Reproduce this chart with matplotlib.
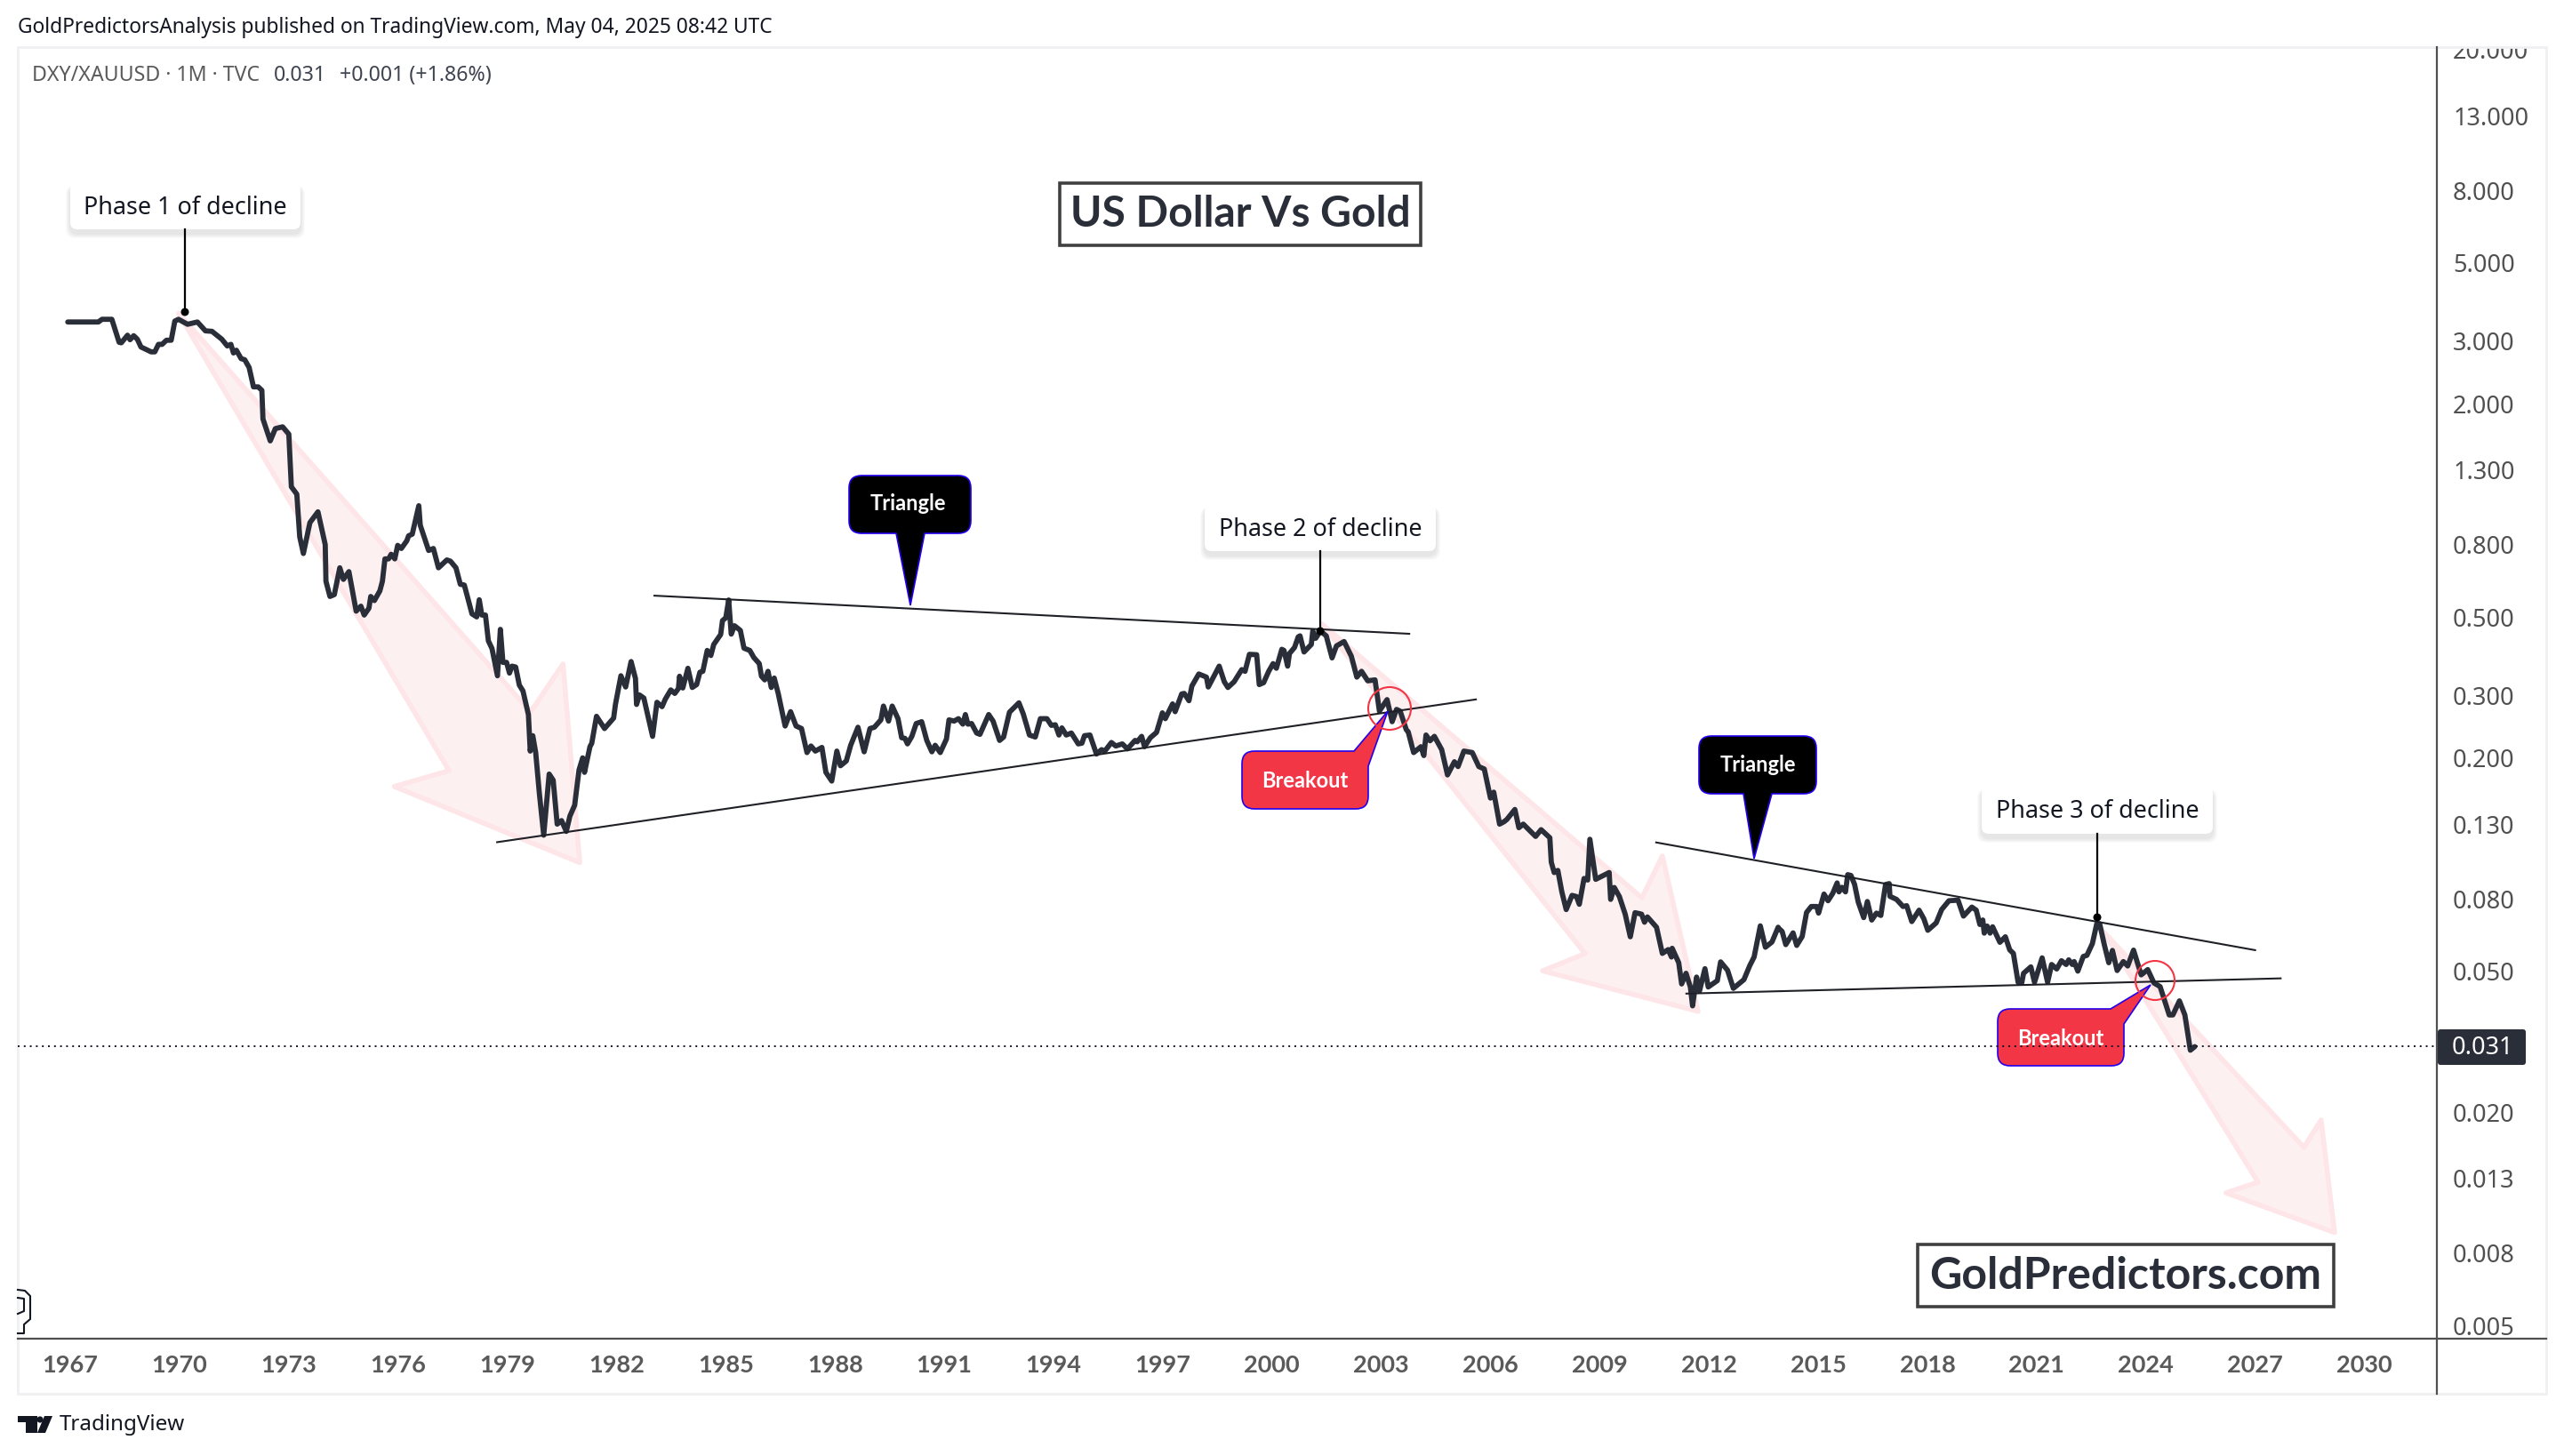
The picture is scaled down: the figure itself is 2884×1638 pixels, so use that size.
from matplotlib import pyplot as plt
from matplotlib.patches import FancyBboxPatch, PathPatch, Polygon, Circle, Rectangle
from matplotlib.path import Path
from matplotlib.transforms import Bbox
import numpy as np

plt.rcParams["font.family"] = ["Noto Sans", "DejaVu Sans"]
BOLD_FONT = ["Lato", "DejaVu Sans"]

# monthly close, one block per stretch of the chart
years_a = [1966.93,1967.77,1967.87,1968.14,1968.34,1968.40,1968.57,1968.64,1968.74,1968.84,1968.94,1969.22,1969.32,1969.42,1969.52,1969.64,1969.77,1969.87,1969.97,1970.22,1970.49,1970.71,1970.89,1971.16,1971.31,1971.41,1971.48,1971.56,1971.69,1971.79,1971.91,1972.03,1972.16,1972.26,1972.29,1972.49,1972.63,1972.83,1973.0,1973.07,1973.22,1973.30,1973.40,1973.58,1973.80,1974.0,1974.02,1974.13,1974.25,1974.40,1974.50,1974.65,1974.85,1974.98,1975.07,1975.20,1975.25,1975.35,1975.50,1975.57,1975.64,1975.74,1975.81,1975.91,1975.99,1976.09,1976.24,1976.29,1976.39,1976.57,1976.61,1976.84,1976.97,1977.11,1977.34,1977.44,1977.59,1977.71,1977.82,1978.03,1978.16,1978.23,1978.30,1978.40,1978.48,1978.58,1978.73,1978.81,1978.88,1978.98,1979.06,1979.13,1979.23,1979.33,1979.43,1979.58,1979.63,1979.70,1979.78,1979.88,1980.0,1980.15,1980.26,1980.37,1980.49,1980.62,1980.72,1980.85,1980.97,1981.07,1981.12,1981.27,1981.32,1981.45,1981.67,1981.92,1981.97,1982.12]
closes_a = [3.40,3.40,3.46,3.46,2.98,2.97,3.12,3.03,3.11,3.04,2.89,2.80,2.80,2.94,2.94,3.02,3.02,3.42,3.46,3.35,3.40,3.21,3.20,3.04,2.91,2.94,2.78,2.83,2.68,2.66,2.53,2.23,2.23,2.18,1.81,1.57,1.70,1.72,1.64,1.165,1.11,.841,.755,.923,.99,.80,.63,.571,.578,.688,.638,.671,.519,.536,.506,.529,.571,.556,.592,.63,.729,.729,.751,.729,.796,.78,.82,.847,.856,1.03,.907,.77,.78,.688,.724,.718,.688,.618,.615,.51,.50,.559,.506,.506,.428,.407,.341,.461,.372,.372,.347,.363,.361,.321,.309,.265,.209,.231,.207,.159,.121,.18,.173,.13,.133,.124,.137,.147,.185,.20,.182,.215,.22,.262,.242,.259,.283,.341]

years_b = [1982.25,1982.40,1982.52,1982.55,1982.63,1982.75,1982.99,1983.11,1983.25,1983.34,1983.49,1983.60,1983.70,1983.73,1983.82,1983.96,1984.08,1984.20,1984.29,1984.37,1984.49,1984.59,1984.67,1984.86,1984.91,1985.0,1985.08,1985.15,1985.24,1985.40,1985.50,1985.66,1985.77,1985.92,1985.98,1986.07,1986.16,1986.25,1986.33,1986.44,1986.63,1986.78,1986.93,1987.08,1987.23,1987.34,1987.46,1987.64,1987.75,1987.91,1988.05,1988.15,1988.31,1988.43,1988.63,1988.80,1988.96,1989.08,1989.26,1989.33,1989.47,1989.57,1989.73,1989.83,1989.92,1989.99,1990.11,1990.23,1990.38,1990.52,1990.66,1990.75,1990.89,1991.06,1991.13,1991.27,1991.39,1991.51,1991.58,1991.65,1991.75,1991.89,1991.98,1992.22,1992.34,1992.52,1992.63,1992.79,1992.93,1993.05,1993.17,1993.34,1993.50,1993.64,1993.82,1993.94,1994.05,1994.15,1994.23,1994.35,1994.49,1994.68,1994.78,1994.85,1995.0,1995.18,1995.32,1995.41,1995.59,1995.71,1995.89,1996.03,1996.24,1996.30,1996.42,1996.50,1996.66,1996.83,1996.99,1997.07,1997.27,1997.34,1997.52,1997.59,1997.72,1997.80,1997.99,1998.20,1998.25,1998.55,1998.69,1998.79,1998.96,1999.17,1999.26,1999.38,1999.58,1999.65,1999.77,1999.91,2000.03,2000.12,2000.27,2000.33,2000.43,2000.48,2000.62,2000.72]
closes_b = [.317,.374,.335,.283,.301,.295,.230,.287,.279,.293,.311,.304,.314,.340,.315,.358,.316,.322,.349,.351,.402,.389,.418,.446,.488,.497,.558,.447,.472,.458,.408,.402,.384,.369,.340,.332,.351,.316,.336,.304,.246,.270,.246,.242,.207,.216,.209,.214,.182,.172,.209,.190,.196,.217,.244,.208,.242,.244,.256,.280,.254,.280,.258,.228,.227,.219,.230,.250,.253,.224,.208,.217,.207,.226,.256,.254,.258,.249,.265,.249,.250,.235,.233,.265,.254,.224,.229,.269,.278,.286,.266,.232,.229,.258,.258,.247,.248,.232,.243,.232,.235,.219,.220,.231,.232,.205,.211,.209,.221,.216,.219,.212,.224,.222,.230,.215,.228,.236,.268,.258,.284,.270,.303,.304,.290,.319,.345,.338,.317,.363,.328,.316,.328,.355,.351,.392,.391,.322,.326,.351,.369,.358,.405,.402,.363,.394,.41,.439]

years_c = [2000.77,2000.88,2001.08,2001.12,2001.20,2001.33,2001.49,2001.65,2001.77,2001.98,2002.18,2002.33,2002.46,2002.63,2002.83,2002.95,2003.16,2003.30,2003.42,2003.52,2003.69,2003.74,2003.89,2004.09,2004.17,2004.23,2004.34,2004.46,2004.66,2004.82,2005.01,2005.11,2005.27,2005.50,2005.68,2005.83,2006.0,2006.09,2006.25,2006.37,2006.45,2006.67,2006.78,2006.90,2007.10,2007.24,2007.39,2007.63]
closes_c = [.442,.398,.418,.456,.435,.456,.442,.383,.414,.426,.387,.338,.351,.330,.332,.271,.292,.253,.274,.271,.240,.237,.207,.215,.203,.232,.2235,.230,.211,.179,.195,.189,.209,.207,.189,.186,.154,.160,.130,.132,.134,.143,.127,.130,.124,.120,.1254,.119]

years_d = [2007.67,2007.75,2007.85,2007.96,2008.08,2008.24,2008.36,2008.44,2008.57,2008.67,2008.73,2008.89,2009.26,2009.30,2009.40,2009.54,2009.70,2009.84,2009.97,2010.15,2010.23,2010.31,2010.56,2010.72,2010.88,2010.97,2010.99,2011.17,2011.25,2011.37,2011.49,2011.55,2011.66,2011.74,2011.89,2011.98,2012.23,2012.32,2012.51,2012.67,2012.96,2013.12,2013.24,2013.41,2013.55,2013.73,2013.90]
closes_d = [.1015,.0949,.0962,.0837,.0746,.0818,.0812,.0772,.0913,.0904,.1178,.0908,.0949,.0797,.0861,.0812,.0724,.0625,.0731,.0724,.0687,.0711,.0665,.0561,.0575,.0548,.058,.0528,.046,.0493,.0451,.0399,.0481,.0439,.0508,.0451,.047,.0531,.0503,.0447,.0473,.0518,.0548,.0671,.0584,.0604,.0665]

years_e = [2013.91,2014.01,2014.11,2014.31,2014.41,2014.56,2014.68,2014.81,2014.96,2015.01,2015.16,2015.27,2015.40,2015.52,2015.57,2015.65,2015.75,2015.81,2015.90,2016.0,2016.10,2016.25,2016.35,2016.47,2016.60,2016.72,2016.85,2016.95,2016.97,2017.15,2017.33,2017.43,2017.57,2017.77,2017.90,2018.01,2018.24,2018.39,2018.59,2018.84,2018.99,2019.22,2019.34,2019.44,2019.52,2019.56,2019.64,2019.72,2019.79,2019.99,2020.14,2020.26,2020.36,2020.49,2020.59,2020.64,2020.84,2020.94,2021.15,2021.30,2021.41,2021.55,2021.68,2021.81,2021.88,2021.98,2022.03,2022.13,2022.28,2022.38,2022.53,2022.65,2022.73,2022.85,2022.98,2023.08,2023.21,2023.38,2023.50,2023.66,2023.87,2024.05,2024.22,2024.39,2024.64,2024.74,2024.92,2025.07,2025.22,2025.34]
closes_e = [.0661,.0647,.0594,.0641,.0591,.0626,.0732,.0761,.0761,.0729,.0825,.079,.0829,.0887,.0837,.0862,.0837,.0936,.0931,.0878,.0783,.0708,.0786,.0697,.0729,.0718,.0878,.0883,.0813,.0797,.0761,.0765,.069,.0743,.0703,.0652,.0684,.0746,.079,.0793,.0715,.0758,.0743,.0677,.0697,.064,.067,.064,.0667,.0603,.0625,.0574,.0561,.0465,.0463,.0493,.0514,.0465,.0545,.0465,.0522,.0507,.0535,.0522,.0538,.0522,.0532,.05,.055,.0554,.0598,.068,.068,.0598,.0528,.0572,.0502,.0532,.0517,.0573,.0488,.0505,.0463,.0452,.0376,.0376,.0412,.0376,.0299,.0306]

x_tick_years = list(range(1967, 2031, 3))
y_tick_values = [20, 13, 8, 5, 3, 2, 1.3, .8, .5, .3, .2, .13, .08, .05, .02, .013, .008, .005]

# drawn trend lines and decline arrows, (year, price)
trend_lines = [
    [(1983.04, .574), (2003.77, .448)],
    [(1978.72, .1156), (2005.6, .2924)],
    [(2010.55, .1154), (2027.0, .0573)],
    [(2011.38, .0432), (2027.7, .0477)],
]
decline_arrows = [
    [(1969.97, 3.6), (1979.64, .2695), (1980.53, .368), (1980.99, .1012), (1975.90, .166), (1977.40, .184)],
    [(2001.37, .4775), (2010.16, .0805), (2010.72, .1057), (2011.70, .0385), (2007.43, .0501), (2008.60, .056)],
    [(2022.83, .0647), (2028.34, .0159), (2028.81, .019), (2029.18, .00914), (2026.2, .01183), (2027.08, .01268)],
]

DARK = "#2a2e39"
AXIS = "#505050"
RED = "#f23645"
BLUE = "#2200ee"

years = np.concatenate([years_a, years_b, years_c, years_d, years_e])
closes = np.concatenate([closes_a, closes_b, closes_c, closes_d, closes_e])

W, H = 2884, 1638
fig = plt.figure(figsize=(W / 100, H / 100), dpi=100, facecolor="white")
ax = fig.add_axes([20 / W, 1 - 1506 / H, (2741 - 20) / W, (1506 - 53) / H])
ax.set_yscale("log")
ax.set_xlim(1965.557, 2031.99)
ax.set_ylim(.004585, 20.3)

for arrow in decline_arrows:
    ax.add_patch(Polygon(arrow, closed=True, facecolor="#fdf0f1", edgecolor="#fde5e8",
                         lw=4, joinstyle="round", zorder=1))
ax.plot(years, closes, color=DARK, lw=4.2, solid_joinstyle="round", solid_capstyle="round", zorder=3)
for line in trend_lines:
    xs, ys = zip(*line)
    ax.plot(xs, ys, color="#1e2026", lw=1.5, zorder=4)

ax.set_xticks(x_tick_years)
ax.set_xticklabels([str(y) for y in x_tick_years], fontsize=19.5, fontweight="bold", color="#5a5a5a",
                   family=BOLD_FONT)
ax.yaxis.tick_right()
ax.set_yticks(y_tick_values)
ax.set_yticklabels([f"{v:.3f}" for v in y_tick_values], fontsize=19.5, color="#505050")
ax.yaxis.set_minor_locator(plt.NullLocator())
ax.tick_params(which="both", length=0)
ax.tick_params(axis="x", pad=13)
ax.tick_params(axis="y", pad=13)
for lab in ax.get_yticklabels():
    lab.set_clip_on(True)
    lab.set_clip_box(Bbox([[0, 0], [W, H - 53]]))
for name in ["top", "left", "right", "bottom"]:
    ax.spines[name].set_visible(False)

# everything that is not data sits on a full figure overlay in pixels
over = fig.add_axes([0, 0, 1, 1], facecolor="none")
over.set_xlim(0, W)
over.set_ylim(H, 0)
over.axis("off")

over.add_patch(Rectangle((20, 53), 2844, 1515, fill=False, edgecolor="#f0f0f2", lw=2, zorder=0))
over.plot([20, 2864], [1506, 1506], color=AXIS, lw=1.6, zorder=1)
over.plot([2741, 2741], [53, 1568], color=AXIS, lw=1.6, zorder=1)


def rounded_path(points):
    # points are (x, y, radius), corners get a quadratic curve
    verts, codes = [], []
    n = len(points)
    for i, (x, y, r) in enumerate(points):
        p = np.array([x, y], float)
        if r == 0:
            verts.append(p)
            codes.append(Path.LINETO)
            continue
        a = np.array(points[i - 1][:2], float) - p
        b = np.array(points[(i + 1) % n][:2], float) - p
        verts += [p + a / np.hypot(*a) * r, p, p + b / np.hypot(*b) * r]
        codes += [Path.LINETO, Path.CURVE3, Path.CURVE3]
    codes[0] = Path.MOVETO
    verts.append(verts[0])
    codes.append(Path.CLOSEPOLY)
    return Path(verts, codes)


def note(x0, y0, x1, y1, text, tx, tip):
    # white label with a soft shadow and a stem going down to a dot
    for k in range(1, 6):
        over.add_patch(FancyBboxPatch((x0 - k, y0 + 3), x1 - x0 + 2 * k, y1 - y0 + k + 2,
                                      boxstyle="round,pad=0,rounding_size=10",
                                      facecolor="black", edgecolor="none", alpha=.018, zorder=5))
    over.add_patch(FancyBboxPatch((x0, y0), x1 - x0, y1 - y0, boxstyle="round,pad=0,rounding_size=8",
                                  facecolor="white", edgecolor="none", zorder=6))
    over.text((x0 + x1) / 2, (y0 + y1) / 2 + 2, text, ha="center", va="center", fontsize=19.4,
              color="#131722", zorder=7)
    over.plot([tx, tx], [y1, tip], color="black", lw=1.6, zorder=6)
    over.add_patch(Circle((tx, tip), 4.5, facecolor="black", edgecolor="none", zorder=6))


note(79, 206, 338, 258, "Phase 1 of decline", 208, 351)
note(1355, 568, 1615, 620, "Phase 2 of decline", 1485, 710)
note(2229, 885, 2489, 938, "Phase 3 of decline", 2359, 1032)


def balloon(points, text, tx, ty, color):
    over.add_patch(PathPatch(rounded_path(points), facecolor=color, edgecolor=BLUE, lw=1.2, zorder=6))
    over.text(tx, ty, text, ha="center", va="center", fontsize=17, fontweight="bold", color="white",
              family=BOLD_FONT, zorder=7)


balloon([(955, 535, 14), (1092, 535, 14), (1092, 600, 14), (1040, 600, 0), (1024, 681, 0), (1008, 600, 0), (955, 600, 14)],
        "Triangle", 1021, 566, "black")
balloon([(1911, 828, 14), (2043, 828, 14), (2043, 893, 14), (1993, 893, 0), (1973, 966, 0), (1961, 893, 0), (1911, 893, 14)],
        "Triangle", 1977, 860, "black")
balloon([(1397, 845, 14), (1523, 845, 0), (1561, 800, 0), (1539, 862, 0), (1539, 910, 14), (1397, 910, 14)],
        "Breakout", 1468, 878, RED)
balloon([(2247, 1135, 14), (2374, 1135, 0), (2419, 1108, 0), (2389, 1152, 0), (2389, 1199, 14), (2247, 1199, 14)],
        "Breakout", 2318, 1168, RED)

over.add_patch(Circle((1563, 797), 24, fill=False, edgecolor=RED, lw=1.5, zorder=8))
over.add_patch(Circle((2424, 1103), 22, fill=False, edgecolor=RED, lw=1.5, zorder=8))

# last price line runs over the balloons
over.plot([0, 1], [closes[-1], closes[-1]], transform=ax.get_yaxis_transform(), color="#131722",
          lw=1.4, dashes=(1, 2.5), zorder=9)
over.add_patch(FancyBboxPatch((2742, 1158), 99, 40, boxstyle="round,pad=0,rounding_size=3",
                              facecolor=DARK, edgecolor="none", zorder=6))
over.text(2792, 1179, f"{closes[-1]:.3f}", ha="center", va="center", fontsize=19.5, color="white", zorder=7)

# boxed captions
over.add_patch(Rectangle((1192, 206), 406, 70, fill=False, edgecolor="#404040", lw=2.6, zorder=5))
over.text(1395, 241, "US Dollar Vs Gold", ha="center", va="center", fontsize=34.6, fontweight="bold",
          color=DARK, family=BOLD_FONT, zorder=6)
over.add_patch(Rectangle((2157, 1400), 468, 70, facecolor="white", edgecolor="#404040", lw=2.6, zorder=5))
over.text(2391, 1436, "GoldPredictors.com", ha="center", va="center", fontsize=36, fontweight="bold",
          color=DARK, family=BOLD_FONT, zorder=6)

# header and legend
over.text(20, 31, "GoldPredictorsAnalysis published on TradingView.com, May 04, 2025 08:42 UTC",
          ha="left", va="center", fontsize=16.4, color="#131722")
over.text(36, 85, "DXY/XAUUSD · 1M · TVC", ha="left", va="center", fontsize=16.7, color="#5a5a5a")
over.text(308, 85, "0.031", ha="left", va="center", fontsize=16.7, color="#3f4450")
over.text(382, 85, "+0.001 (+1.86%)", ha="left", va="center", fontsize=16.7, color="#3f4450")

# footer logo and name
over.add_patch(Polygon([(20, 1593), (42, 1593), (42, 1612), (29, 1612), (29, 1600), (20, 1600)], facecolor="#131722", edgecolor="none"))
over.add_patch(Circle((45, 1597), 3.6, facecolor="#131722", edgecolor="none"))
over.add_patch(Polygon([(50, 1593), (59, 1593), (51, 1612), (42, 1612)], facecolor="#131722", edgecolor="none"))
over.text(67, 1603, "TradingView", ha="left", va="center", fontsize=17.4, color="#131722")

# clipped logo stub at the lower left
over.plot([20, 28, 34, 34, 27, 27, 20], [1451, 1452, 1458, 1484, 1490, 1500, 1500], color="#131722", lw=1.5)
over.plot([20, 27, 27, 20], [1460, 1461, 1475, 1478], color="#131722", lw=1.5)

fig.savefig("out.png", dpi=100)
